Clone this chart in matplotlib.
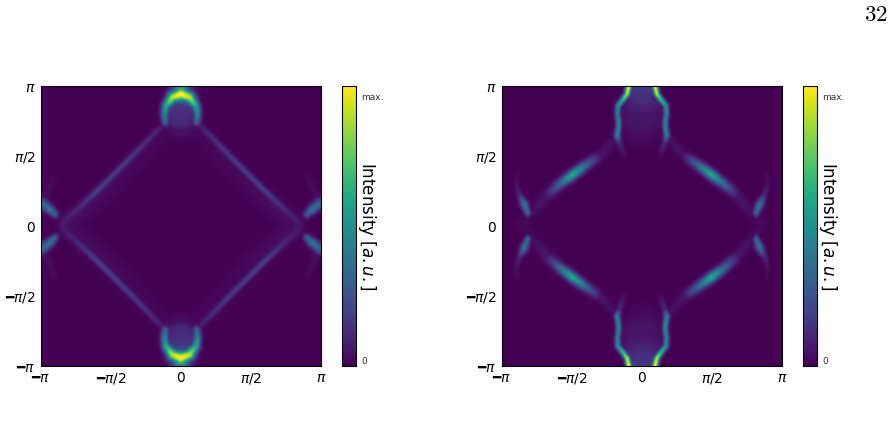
import numpy as np
import matplotlib
matplotlib.use("Agg")
import matplotlib.pyplot as plt

# Spectral ridges in the first quadrant, mirrored into the others.
# Each row: kx/pi, ky/pi, intensity, width (in units of pi).
left_arc = [(0.00, 0.946, 1.00, 0.030), (0.06, 0.923, 0.85, 0.027), (0.107, 0.863, 0.58, 0.021),
            (0.119, 0.804, 0.44, 0.019), (0.114, 0.744, 0.30, 0.018), (0.105, 0.715, 0.07, 0.016)]
left_cap = [(0.00, 0.946, 0.90, 0.036), (0.00, 1.00, 0.42, 0.042)]
left_diagonal = [(0.120, 0.735, 0.06, 0.016), (0.20, 0.655, 0.10, 0.015), (0.37, 0.482, 0.15, 0.015),
                 (0.608, 0.245, 0.16, 0.015), (0.774, 0.090, 0.07, 0.017), (0.830, 0.045, 0.055, 0.020),
                 (0.850, 0.000, 0.05, 0.022)]
left_halo = [(0.14, 0.66, 0.015, 0.060), (0.53, 0.25, 0.025, 0.065), (0.77, 0.04, 0.03, 0.060), (0.78, 0.00, 0.03, 0.060)]
left_wing = [(0.886, 0.062, 0.06, 0.015), (0.905, 0.085, 0.28, 0.019), (0.936, 0.115, 0.38, 0.022),
             (0.993, 0.160, 0.32, 0.026), (1.00, 0.165, 0.30, 0.026)]
left_faint = [(0.98, 0.20, 0.035, 0.022), (0.907, 0.354, 0.02, 0.022), (0.89, 0.40, 0.00, 0.022)]
left_dome = [(0.00, 0.725, 0.04, 0.085), (0.00, 0.80, 0.13, 0.095), (0.00, 0.92, 0.18, 0.095)]

right_wall = [(0.095, 1.00, 1.00, 0.015), (0.107, 0.946, 0.88, 0.014), (0.138, 0.904, 0.64, 0.014),
              (0.171, 0.863, 0.50, 0.014), (0.176, 0.80, 0.42, 0.014), (0.168, 0.757, 0.44, 0.014),
              (0.168, 0.71, 0.46, 0.014), (0.178, 0.649, 0.44, 0.015), (0.165, 0.60, 0.12, 0.016),
              (0.128, 0.50, 0.02, 0.018)]
right_diagonal = [(0.13, 0.70, 0.015, 0.030), (0.295, 0.51, 0.055, 0.026), (0.40, 0.439, 0.33, 0.024),
                  (0.498, 0.368, 0.62, 0.024), (0.593, 0.296, 0.32, 0.024), (0.686, 0.213, 0.06, 0.028),
                  (0.82, 0.05, 0.025, 0.034), (0.86, 0.00, 0.02, 0.036)]
right_wing = [(0.819, 0.055, 0.04, 0.013), (0.819, 0.094, 0.32, 0.016), (0.843, 0.154, 0.38, 0.020),
              (0.879, 0.225, 0.10, 0.016), (0.902, 0.296, 0.04, 0.014), (0.895, 0.368, 0.02, 0.014),
              (0.875, 0.41, 0.00, 0.014)]
right_channel = [(0.00, 0.60, 0.00, 0.09), (0.00, 0.70, 0.03, 0.12), (0.00, 0.80, 0.06, 0.135),
                 (0.00, 0.95, 0.14, 0.090), (0.00, 1.00, 0.17, 0.085)]

tick_fractions = [-1.0, -0.5, 0.0, 0.5, 1.0]
tick_labels_x = ["$\u2501\\pi$", "$\u2501\\pi/2$", "$0$", r"$\pi/2$", r"$\pi$"]
colorbar_positions = [0.018, 0.964]
colorbar_labels = ["0", "max."]
page_number = "$32$"
colorbar_title = r"Intensity [$a.u.$]"


def ridge(kx, ky, points, power=2.0):
    """Largest response of a polyline whose intensity and width vary along it."""
    pts = np.asarray(points, float)
    field = np.zeros_like(kx)
    for a, b in zip(pts[:-1], pts[1:]):
        dx, dy = b[0] - a[0], b[1] - a[1]
        t = ((kx - a[0]) * dx + (ky - a[1]) * dy) / (dx * dx + dy * dy)
        t = np.clip(t, 0, 1)
        dist = np.hypot(kx - a[0] - t * dx, ky - a[1] - t * dy)
        amp = a[2] + t * (b[2] - a[2])
        width = a[3] + t * (b[3] - a[3])
        field = np.maximum(field, amp * np.exp(-0.5 * (dist / width) ** power))
    return field


def spectrum(sharp, plateaus, glows=()):
    axis = np.linspace(-1, 1, 281)
    gx, gy = np.meshgrid(np.abs(axis), np.abs(axis))
    total = np.zeros_like(gx)
    for points in plateaus:
        total = np.maximum(total, ridge(gx, gy, points, power=4.0))
    crest = np.zeros_like(gx)
    for points in sharp:
        crest = np.maximum(crest, ridge(gx, gy, points))
    field = np.maximum(total, crest) + 0.35 * np.minimum(total, crest)
    for points in glows:
        field = field + ridge(gx, gy, points)
    return np.clip(field, 0, 1)


left_map = spectrum([left_arc, left_cap, left_diagonal, left_wing, left_faint], [left_dome], [left_halo])
right_map = spectrum([right_wall, right_diagonal, right_wing], [right_channel])

W, H = 893, 443
BOTTOM = 366.0
fig = plt.figure(figsize=(W / 100, H / 100), dpi=100)


def panel(x0, x_bar, data):
    ax = fig.add_axes([x0 / W, 1 - BOTTOM / H, 280 / W, 280 / H])
    im = ax.imshow(data, origin="lower", cmap="viridis", vmin=0, vmax=1, aspect="auto",
                   extent=[-np.pi, np.pi, -np.pi, np.pi], interpolation="bilinear")
    ticks = np.array(tick_fractions) * np.pi
    ax.set_xticks(ticks, tick_labels_x)
    ax.set_yticks(ticks, tick_labels_x)
    ax.tick_params(axis="x", length=0, labelsize=10, pad=3.5)
    ax.tick_params(axis="y", length=0, labelsize=10, pad=4)
    cax = fig.add_axes([x_bar / W, 1 - BOTTOM / H, 14 / W, 280 / H])
    bar = fig.colorbar(im, cax=cax)
    bar.set_ticks(colorbar_positions, labels=colorbar_labels)
    bar.ax.tick_params(length=0, labelsize=6.5, pad=4, colors="#333333")
    cax.text(1.78, 0.5, colorbar_title, transform=cax.transAxes, rotation=270,
             ha="center", va="center", fontsize=12)


panel(41, 342, left_map)
panel(502, 803, right_map)

fig.text(875.5 / W, 1 - 14.5 / H, page_number, ha="center", va="center", fontsize=16.5,
         math_fontfamily="cm")

fig.savefig("out.png", dpi=100)
